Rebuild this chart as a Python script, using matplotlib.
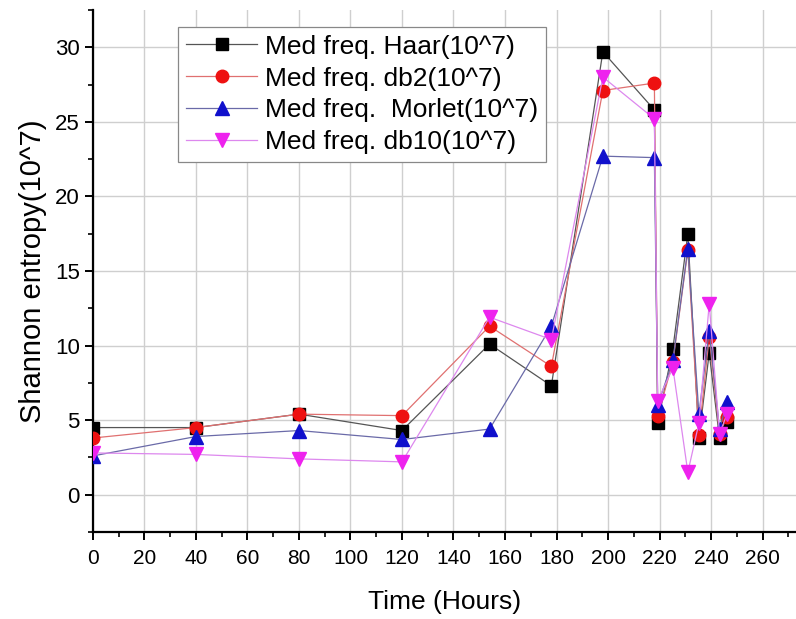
import matplotlib
matplotlib.use("Agg")
import matplotlib.pyplot as plt
from matplotlib.ticker import MultipleLocator

plt.rcParams['font.family'] = ['Liberation Sans', 'DejaVu Sans']

# Sampling times (hours)
hours = [0, 40, 80, 120, 154, 178, 198, 218, 219.3, 225.2, 231, 235.3, 239.3, 243.3, 246.2]

# Shannon entropy (x 10^7) of the medium-frequency band for each wavelet
haar = [4.5, 4.5, 5.4, 4.3, 10.1, 7.3, 29.7, 25.8, 4.8, 9.8, 17.5, 3.8, 9.5, 3.8, 4.9]
db2 = [3.8, 4.5, 5.4, 5.3, 11.3, 8.6, 27.1, 27.6, 5.3, 8.9, 16.4, 4.0, 10.6, 4.1, 5.2]
morlet = [2.6, 3.9, 4.3, 3.7, 4.4, 11.3, 22.7, 22.6, 6.0, 9.0, 16.5, 5.4, 11.0, 4.4, 6.2]
db10 = [2.8, 2.7, 2.4, 2.2, 11.9, 10.4, 28.0, 25.2, 6.3, 8.5, 1.5, 4.8, 12.8, 4.1, 5.4]

labels = ["Med freq. Haar(10^7)", "Med freq. db2(10^7)",
          "Med freq.  Morlet(10^7)", "Med freq. db10(10^7)"]

fig = plt.figure(figsize=(7.96, 6.19), dpi=100)
ax = fig.add_axes([0.1168, 0.1406, 0.8832, 0.8433])

styles = [
    dict(color="#555555", marker="s", mfc="black", mec="black", ms=8),
    dict(color="#e07070", marker="o", mfc="#ee1111", mec="#ee1111", ms=9),
    dict(color="#6a6aa8", marker="^", mfc="#1010cc", mec="#1010cc", ms=10),
    dict(color="#dd88ee", marker="v", mfc="#ee22ee", mec="#ee22ee", ms=10),
]

for series, lab, st in zip([haar, db2, morlet, db10], labels, styles):
    ax.plot(hours, series, label=lab, lw=0.9, color=st["color"], marker=st["marker"],
            markerfacecolor=st["mfc"], markeredgecolor=st["mec"], markersize=st["ms"],
            zorder=3)

ax.set_xlim(0, 273)
ax.set_ylim(-2.5, 32.5)

ax.xaxis.set_major_locator(MultipleLocator(20))
ax.xaxis.set_minor_locator(MultipleLocator(10))
ax.yaxis.set_major_locator(MultipleLocator(5))
ax.yaxis.set_minor_locator(MultipleLocator(2.5))

ax.grid(True, which="major", color="#cfcfcf", lw=1.0, zorder=0)
ax.set_axisbelow(True)

for side in ("top", "right"):
    ax.spines[side].set_visible(False)
for side in ("left", "bottom"):
    ax.spines[side].set_linewidth(1.6)

ax.tick_params(which="major", direction="out", length=6, width=1.4, labelsize=15)
ax.tick_params(which="minor", direction="out", length=3.5, width=1.2)
ax.tick_params(axis="x", pad=6, labelsize=15)
ax.tick_params(axis="y", labelsize=16)

ax.set_xlabel("Time (Hours)", fontsize=19, labelpad=16)
ax.set_ylabel("Shannon entropy(10^7)", fontsize=21, labelpad=6)

leg = ax.legend(loc="upper left", bbox_to_anchor=(0.121, 0.968), fontsize=19,
                frameon=True, fancybox=False, framealpha=1, edgecolor="#888888",
                handlelength=2.7, handletextpad=0.3, borderpad=0.3,
                labelspacing=0.3, borderaxespad=0)
leg.get_frame().set_linewidth(0.9)

fig.savefig("out.png", dpi=100)
